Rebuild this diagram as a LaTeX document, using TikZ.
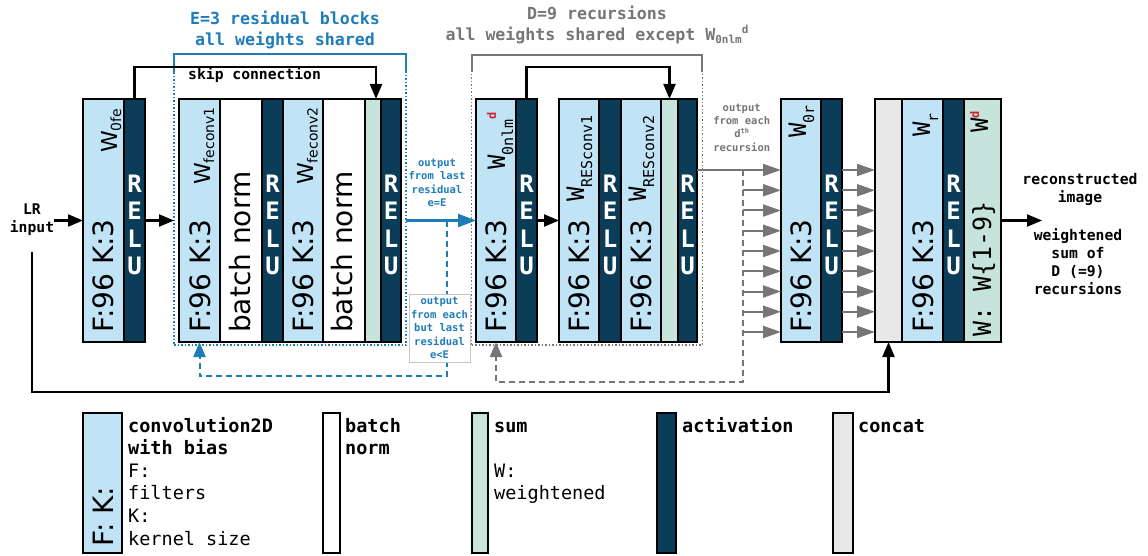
\documentclass[tikz,border=0pt]{standalone}
\usepackage{fontspec}
\setmainfont{DejaVu Sans}
\newfontfamily\dvs{DejaVu Sans}
\newfontfamily\dvm{DejaVu Sans Mono}
\usetikzlibrary{arrows.meta}
\definecolor{lb}{RGB}{192,228,246}
\definecolor{nv}{RGB}{11,61,88}
\definecolor{sg}{RGB}{198,228,220}
\definecolor{cg}{RGB}{232,232,232}
\definecolor{eb}{RGB}{30,125,185}
\definecolor{dg}{RGB}{118,118,118}
\definecolor{dr}{RGB}{210,30,40}
\newcommand{\fs}[1]{\fontsize{#1}{#1}\selectfont}
\newcommand{\Ws}[1]{{\dvs\fs{22}W}\raisebox{-4pt}{\dvs\fs{14}#1}}
\newcommand{\Wm}[1]{{\dvm\fs{24}W}\raisebox{-8pt}{\dvm\fs{15}#1}}
\newcommand{\dsup}{\raisebox{9pt}{\dvm\bfseries\fs{12}\textcolor{dr}{d}}}
\tikzset{
 col/.style={draw=black, line width=1.2pt, minimum height=243, inner sep=0pt, outer sep=0pt},
 cv/.style={col, fill=lb, minimum width=#1},
 nm/.style={col, fill=white, minimum width=#1},
 ac/.style={col, fill=nv, minimum width=#1},
 sm/.style={col, fill=sg, minimum width=#1},
 cc/.style={col, fill=cg, minimum width=#1},
 blockout/.style={draw=black, line width=2.2pt},
 relu/.style={text=white, align=center, font=\dvm\bfseries\fontsize{24}{27.5}\selectfont, inner sep=0pt},
 rtxt/.style={rotate=90, anchor=base west, inner sep=0pt},
 fk/.style={rtxt, font=\dvs\fs{28}},
 lab/.style={font=\dvm\bfseries\fontsize{14.7}{18}\selectfont, align=center, inner sep=0pt},
 smalllab/.style={font=\dvm\bfseries\fontsize{10.5}{13.4}\selectfont, align=center, inner sep=0pt},
 ttl/.style={font=\dvm\bfseries\fontsize{16.6}{20.5}\selectfont, align=center, inner sep=0pt},
 leg/.style={font=\dvm\fontsize{18.5}{22.6}\selectfont, align=left, inner sep=0pt, anchor=north west},
 legbox/.style={col, line width=1.8pt, minimum height=140},
 arr/.style={draw=black, line width=2.2pt, -{Triangle[length=15pt,width=12pt]}},
 barr/.style={draw=eb, line width=2.5pt, -{Triangle[length=18pt,width=13pt]}},
 bdash/.style={draw=eb, line width=2pt, dash pattern=on 6pt off 4pt, -{Triangle[length=15pt,width=12pt]}},
 gdash/.style={draw=dg, line width=2pt, dash pattern=on 6pt off 4pt, -{Triangle[length=15pt,width=12pt]}},
 garr/.style={draw=dg, line width=2pt, -{Triangle[length=18pt,width=12pt]}},
}
\begin{document}
\begin{tikzpicture}[x=1pt,y=-1pt]
\fill[white] (0,0) rectangle (1148,556);
\useasboundingbox (0,0) rectangle (1148,556);

% group frames
\node[draw=eb, dotted, line width=1.5pt, minimum width=232, minimum height=291, inner sep=0pt, outer sep=0pt] (ebox) at (290,199.5) {};
\draw[eb, line width=2pt] (ebox.north west) ++(0,18) -- (ebox.north west) -- (ebox.north east) -- ++(0,18);
\node[draw=dg, dotted, line width=1.5pt, minimum width=230.6, minimum height=290, inner sep=0pt, outer sep=0pt] (dbox) at (587,200) {};
\draw[dg, line width=2pt] (dbox.north west) ++(0,17) -- (dbox.north west) -- (dbox.north east) -- ++(0,17);

\node[ttl, text=eb] (et) at (285,30) {E=3 residual blocks\\all weights shared};
\node[ttl, text=dg] (dt) at (597,25) {D=9 recursions\\all weights shared except W\raisebox{-3pt}{\fs{11}0nlm}\raisebox{7pt}{\fs{11}d}};

% block 1
\node[cv=41] (b1c) at (103.5,220.5) {};
\node[ac=21] (b1r) at (134.5,220.5) {};
\draw[blockout] (b1c.north west) rectangle (b1r.south east);
% block 2
\node[cv=41] (b2c1) at (199.5,220.5) {};
\node[nm=42] (b2n1) at (241,220.5) {};
\node[ac=21] (b2r1) at (272.5,220.5) {};
\node[cv=40] (b2c2) at (303,220.5) {};
\node[nm=42] (b2n2) at (344,220.5) {};
\node[sm=16] (b2s) at (373,220.5) {};
\node[ac=20] (b2r2) at (391,220.5) {};
\draw[blockout] (b2c1.north west) rectangle (b2r2.south east);
% block 3
\node[cv=40] (b3c) at (496,220.5) {};
\node[ac=21] (b3r) at (526.5,220.5) {};
\draw[blockout] (b3c.north west) rectangle (b3r.south east);
% block 4
\node[cv=40] (b4c1) at (579,220.5) {};
\node[ac=22] (b4r1) at (610,220.5) {};
\node[cv=40] (b4c2) at (641,220.5) {};
\node[sm=17] (b4s) at (669.5,220.5) {};
\node[ac=19] (b4r2) at (687.5,220.5) {};
\draw[blockout] (b4c1.north west) rectangle (b4r2.south east);
% block 5
\node[cv=40] (b5c) at (801,220.5) {};
\node[ac=21] (b5r) at (831.5,220.5) {};
\draw[blockout] (b5c.north west) rectangle (b5r.south east);
% block 6
\node[cc=27] (b6k) at (888.5,220.5) {};
\node[cv=41] (b6c) at (922.5,220.5) {};
\node[ac=21] (b6r) at (953.5,220.5) {};
\node[sm=37] (b6s) at (982.5,220.5) {};
\draw[blockout] (b6k.north west) rectangle (b6s.south east);

% RELU labels
\foreach \n/\x in {1/134.5,2/272.5,3/391,4/526.5,5/610,6/687.5,7/831.5,8/953.5}
  \node[relu] (relu\n) at (\x,225) {R\\E\\L\\U};

% rotated texts
\node[rtxt] (t1w) at (117,153) {\Ws{0fe}};
\node[fk] (t1f) at (113,333) {F:96 K:3};
\node[rtxt] (t2w) at (210,185) {\Ws{feconv1}};
\node[fk] (t2f) at (210,333) {F:96 K:3};
\node[fk] (t2n) at (250,333) {batch norm};
\node[rtxt] (t3w) at (313.5,185) {\Ws{feconv2}};
\node[fk] (t3f) at (313.5,333) {F:96 K:3};
\node[fk] (t3n) at (352.7,333) {batch norm};
\node[rtxt] (t4w) at (505,170) {\Wm{0nlm}\dsup};
\node[fk] (t4f) at (506.5,333) {F:96 K:3};
\node[rtxt] (t5w) at (584,202) {\Wm{RESconv1}};
\node[fk] (t5f) at (589.5,333) {F:96 K:3};
\node[rtxt] (t6w) at (646,202) {\Wm{RESconv2}};
\node[fk] (t6f) at (651.5,333) {F:96 K:3};
\node[rtxt] (t7w) at (806,138) {\Wm{0r}};
\node[fk] (t7f) at (811.5,333) {F:96 K:3};
\node[rtxt] (t8w) at (930,137) {\Wm{r}};
\node[fk] (t8f) at (933,333) {F:96 K:3};
\node[rtxt] (t9w) at (988,133) {{\dvm\fs{24}W}\dsup};
\node[rtxt, font=\dvm\fs{25}] (t9f) at (991,337) {W: W\{1-9\}};

% skip connections
\coordinate (sky) at (0,67);
\draw[arr] (b1r.north) -- (b1r.north |- sky) -| ([xshift=3pt]b2s.north);
\draw[arr] (b3r.north) -- (b3r.north |- sky) -| (b4s.north);
\node[lab, anchor=west] (skip) at (188,75) {skip connection};

% input
\node[lab] (lr) at (32,220) {LR\\input};
\draw[arr] (lr.east |- b1c.west) -- (b1c.west);
\draw[arr] (b1r.east) -- (b1r.east -| ebox.west);
\coordinate (lrd) at (32,252);
\coordinate (ly) at (0,392);
\draw[arr] (lrd) -- (lrd |- ly) -| (b6k.south);

% residual outputs
\draw[barr] (ebox.east |- b3c.west) -- (b3c.west);
\coordinate (bs) at (446.7,220.5);
\coordinate (by) at (0,376);
\draw[bdash] (bs) -- (bs |- by) -| (b2c1.south);
\node[smalllab, text=eb] (lbl1) at (437,183) {output\\from last\\residual\\e=E};
\node[smalllab, text=eb, draw=black!22, line width=1pt, fill=white, minimum width=61, minimum height=68] (lbl2) at (439.5,328) {output\\from each\\but last\\residual\\e<E};

% block 3 -> block 4
\draw[arr] (b3r.east) -- (b4c1.west);

% recursion outputs
\foreach \i in {0,...,8} \coordinate (g\i) at (743,{170+20.25*\i});
\draw[garr] (b4r2.east |- g0) -- (b5c.west |- g0);
\coordinate (gy) at (0,382);
\draw[gdash] (g0) -- (g0 |- gy) -| (b3c.south);
\foreach \i in {1,...,8} \draw[garr] (g\i) -- (g\i -| b5c.west);
\foreach \i in {0,...,8} \draw[garr] (b5r.east |- g\i) -- (b6k.west |- g\i);
\node[smalllab, text=dg] (lbl3) at (741.7,127.5) {output\\from each\\d\raisebox{4pt}{\fs{7}th}\\recursion};

% output
\coordinate (out) at (1042,220.5);
\draw[arr] (b6s.east |- out) -- (out);
\node[lab] (rec) at (1080,189) {reconstructed\\image};
\node[lab] (ws) at (1078,262) {weightened\\sum of\\D (=9)\\recursions};

% legend
\node[legbox, fill=lb, minimum width=39] (lgc) at (102.5,483) {};
\node[fk] (lgf) at (113,547) {F: K:};
\node[leg] (lgt1) at (128,416) {\strut\textbf{convolution2D}\\\textbf{with bias}\\F:\\filters\\K:\\kernel size};
\node[legbox, fill=white, minimum width=17] (lgn) at (331.5,483) {};
\node[leg] (lgt2) at (345,416) {\strut\textbf{batch}\\\textbf{norm}};
\node[legbox, fill=sg, minimum width=16] (lgs) at (480,483) {};
\node[leg] (lgt3) at (494,416) {\strut\textbf{sum}\\\mbox{}\\W:\\weightened};
\node[legbox, fill=nv, minimum width=19] (lga) at (666.5,483) {};
\node[leg] (lgt4) at (682,416) {\strut\textbf{activation}};
\node[legbox, fill=cg, minimum width=20] (lgk) at (843,483) {};
\node[leg] (lgt5) at (858,416) {\strut\textbf{concat}};
\end{tikzpicture}
\end{document}
